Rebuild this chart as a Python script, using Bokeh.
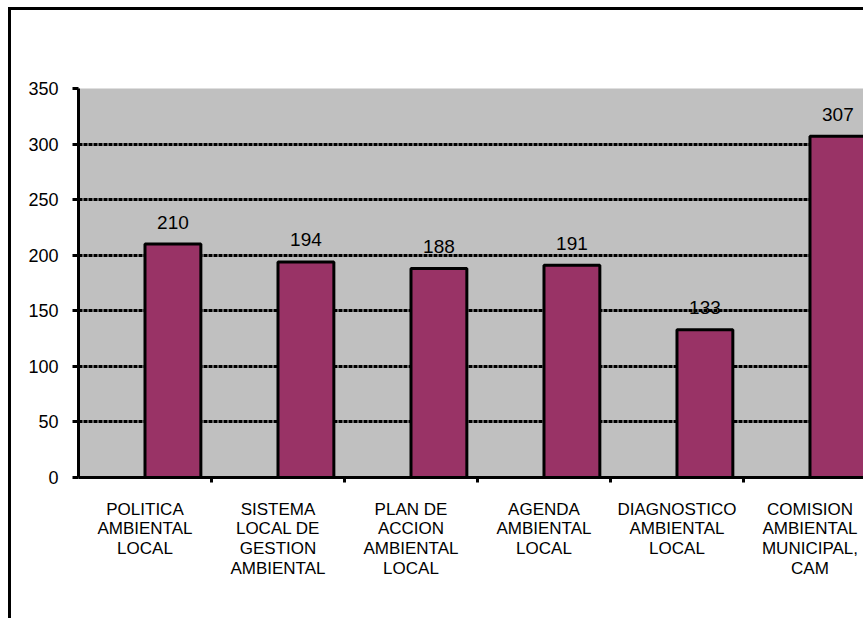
from bokeh.plotting import figure
from bokeh.models import Range1d, FixedTicker, Grid, ColumnDataSource
from bokeh.embed import file_html
from bokeh.resources import INLINE
from bokeh.core.properties import value

categories = [
    "POLITICA\nAMBIENTAL\nLOCAL",
    "SISTEMA\nLOCAL DE\nGESTION\nAMBIENTAL",
    "PLAN DE\nACCION\nAMBIENTAL\nLOCAL",
    "AGENDA\nAMBIENTAL\nLOCAL",
    "DIAGNOSTICO\nAMBIENTAL\nLOCAL",
    "COMISION\nAMBIENTAL\nMUNICIPAL,\nCAM",
]
values = [210, 194, 188, 191, 133, 307]
y_ticks = [0, 50, 100, 150, 200, 250, 300, 350]

FONT = "Liberation Sans"
BAR_OFFSET = 0.71
BAR_WIDTH = 0.42

n = len(categories)
centers = [i + 0.5 for i in range(n)]
bar_x = [i + BAR_OFFSET for i in range(n)]
src = ColumnDataSource(dict(x=bar_x, top=values, label=[str(v) for v in values]))

p = figure(width=855, height=611, output_backend="svg", toolbar_location=None,
           x_range=Range1d(0, 5.925), y_range=Range1d(0, 350),
           min_border_left=67, min_border_right=0, min_border_top=78, min_border_bottom=144)
p.styles = {"margin-left": "8px", "margin-top": "7px",
            "border-left": "3px solid black", "border-top": "3px solid black"}
p.background_fill_color = "#C0C0C0"
p.border_fill_color = "white"
p.outline_line_color = None

# grids
p.xgrid.visible = False
p.ygrid.visible = False
g = Grid(dimension=1, ticker=FixedTicker(ticks=y_ticks[1:-1]), grid_line_color="black",
         grid_line_width=3, grid_line_dash="4 1")
p.add_layout(g)
g2 = Grid(dimension=1, ticker=FixedTicker(ticks=[y_ticks[-1]]), grid_line_color="#9A9A9A",
          grid_line_width=1, grid_line_dash="4 2")
p.add_layout(g2)

p.vbar(x="x", top="top", width=BAR_WIDTH, bottom=0, source=src,
       fill_color="#993366", line_color="black", line_width=3)
p.text(x="x", y="top", text="label", source=src, text_align="center",
       text_baseline="alphabetic", y_offset=-22, text_font=value(FONT),
       text_font_size="19px", text_color="black")

# x axis
xa = p.xaxis[0]
xa.ticker = FixedTicker(ticks=centers, minor_ticks=[1, 2, 3, 4, 5])
xa.major_label_overrides = {c: lab for c, lab in zip(centers, categories)}
xa.major_tick_line_color = None
xa.major_tick_out = 0
xa.major_tick_in = 0
xa.minor_tick_out = 5
xa.minor_tick_in = 0
xa.minor_tick_line_width = 3
xa.minor_tick_line_color = "black"
xa.axis_line_width = 3
xa.axis_line_color = "black"
xa.major_label_text_font = FONT
xa.major_label_text_font_size = "17px"
xa.major_label_text_line_height = 1.05
xa.major_label_text_color = "black"
xa.major_label_standoff = 17

# y axis
ya = p.yaxis[0]
ya.ticker = FixedTicker(ticks=y_ticks)
ya.axis_line_width = 3
ya.axis_line_color = "black"
ya.major_tick_out = 6
ya.major_tick_in = 0
ya.major_tick_line_width = 3
ya.minor_tick_line_color = None
ya.major_label_text_font = FONT
ya.major_label_text_font_size = "18px"
ya.major_label_text_color = "black"
ya.major_label_standoff = 14

open("out.html", "w").write(file_html(p, INLINE))
